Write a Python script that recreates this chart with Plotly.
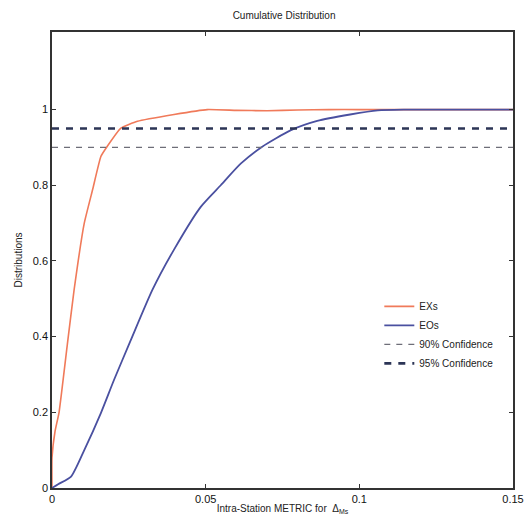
import plotly.graph_objects as go

ex_x = [0, 0, 0.001, 0.0023, 0.005, 0.0072, 0.0105, 0.0132, 0.0159, 0.018, 0.0224, 0.0278, 0.0397, 0.0505, 0.06, 0.07, 0.08, 0.09, 0.1, 0.15]
ex_y = [0, 0.08, 0.15, 0.2, 0.38, 0.524, 0.70, 0.788, 0.876, 0.903, 0.951, 0.969, 0.987, 1.0, 0.998, 0.997, 0.999, 1.0, 1.0, 1.0]

eo_x = [0, 0.002, 0.0062, 0.0105, 0.0159, 0.0202, 0.0256, 0.0327, 0.0397, 0.0484, 0.0549, 0.0614, 0.0684, 0.0776, 0.0863, 0.097, 0.106, 0.115, 0.15]
eo_y = [0, 0.01, 0.03, 0.10, 0.198, 0.286, 0.39, 0.524, 0.63, 0.743, 0.80, 0.857, 0.902, 0.945, 0.970, 0.987, 0.998, 1.0, 1.0]

conf_x = [0, 0.15]
conf90 = [0.9, 0.9]
conf95 = [0.95, 0.95]

x_ticks = [0, 0.05, 0.1, 0.15]
x_labels = ["0", "0.05", "0.1", "0.15"]
y_ticks = [0, 0.2, 0.4, 0.6, 0.8, 1]
y_labels = ["0", "0.2", "0.4", "0.6", "0.8", "1"]

FONT = "Liberation Sans Narrow, Liberation Sans, sans-serif"

fig = go.Figure()
fig.add_trace(go.Scatter(x=ex_x, y=ex_y, mode="lines", name="EXs",
                         line=dict(color="#f07a5a", width=1.6, shape="spline", smoothing=0.4)))
fig.add_trace(go.Scatter(x=eo_x, y=eo_y, mode="lines", name="EOs",
                         line=dict(color="#4a50a0", width=1.8, shape="spline", smoothing=0.6)))
fig.add_trace(go.Scatter(x=conf_x, y=conf90, mode="lines", name="90% Confidence",
                         line=dict(color="#6e6e78", width=1.3, dash="6px,6px")))
fig.add_trace(go.Scatter(x=conf_x, y=conf95, mode="lines", name="95% Confidence",
                         line=dict(color="#2c3556", width=2.6, dash="7px,7px")))

fig.update_layout(
    width=516, height=512,
    margin=dict(l=44, r=11, t=24, b=32),
    paper_bgcolor="white", plot_bgcolor="white",
    font=dict(family=FONT, size=11, color="#222"),
    title=dict(text="Cumulative Distribution", x=0.535, xanchor="center", y=0.986, yanchor="middle",
               font=dict(family=FONT, size=10, color="#222")),
    showlegend=True,
    legend=dict(x=0.71, y=0.43, xanchor="left", yanchor="top", bgcolor="rgba(0,0,0,0)",
                font=dict(family=FONT, size=10, color="#222"), tracegroupgap=0),
    xaxis=dict(range=[0, 0.15], tickvals=x_ticks, ticktext=x_labels, showgrid=False, zeroline=False,
               showline=True, linecolor="#333", linewidth=1.5, mirror="ticks", ticks="inside",
               ticklen=4, tickcolor="#333", automargin=False,
               tickfont=dict(family=FONT, size=11, color="#111"),
               title=dict(text="Intra-Station METRIC for  Δ<sub>Ms</sub>", standoff=1,
                          font=dict(family=FONT, size=10, color="#222"))),
    yaxis=dict(range=[0, 1.205], tickvals=y_ticks, ticktext=y_labels, showgrid=False, zeroline=False,
               showline=True, linecolor="#333", linewidth=1.5, mirror="ticks", ticks="inside",
               ticklen=4, tickcolor="#333", automargin=False,
               tickfont=dict(family=FONT, size=11, color="#111"),
               title=dict(text="Distributions", standoff=8,
                          font=dict(family=FONT, size=10, color="#222"))),
)

fig.write_html("out.html")
